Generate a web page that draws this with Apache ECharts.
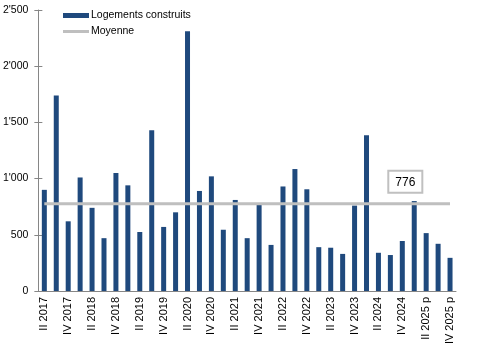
<!DOCTYPE html>
<html>
<head>
<meta charset="utf-8">
<script src="https://cdn.jsdelivr.net/npm/echarts@6/dist/echarts.min.js"></script>
<style>
html,body{margin:0;padding:0;background:#fff;}
#c{width:478px;height:349px;}
</style>
</head>
<body>
<div id="c"></div>
<script>
const categories = ["II 2017","III 2017","IV 2017","I 2018","II 2018","III 2018","IV 2018","I 2019","II 2019","III 2019","IV 2019","I 2020","II 2020","III 2020","IV 2020","I 2021","II 2021","III 2021","IV 2021","I 2022","II 2022","III 2022","IV 2022","I 2023","II 2023","III 2023","IV 2023","I 2024","II 2024","III 2024","IV 2024","I 2025 p","II 2025 p","III 2025 p","IV 2025 p"];
const logements = [900,1740,620,1010,740,470,1050,940,525,1430,570,700,2310,890,1020,545,810,470,765,410,930,1085,905,390,385,330,760,1385,340,320,445,800,515,420,295];
const moyenne = [776,776,776,776,776,776,776,776,776,776,776,776,776,776,776,776,776,776,776,776,776,776,776,776,776,776,776,776,776,776,776,776,776,776,776];
const moyenneLabelIndex = 30;
const yTicks = [0,500,1000,1500,2000,2500];

const FONT = '"Liberation Sans", Arial, sans-serif';
function fmt(v){ return String(v).replace(/\B(?=(\d{3})+(?!\d))/g, "'"); }

const lineData = moyenne.map((v,i) => i === moyenneLabelIndex ? {
  value: v,
  label: {
    show: true, position: 'top', distance: 12, offset: [3,0],
    formatter: '{c}', color: '#000', fontFamily: FONT, fontSize: 12,
    backgroundColor: '#fff', borderColor: '#C0C0C0', borderWidth: 2,
    padding: [4,6,3,6], lineHeight: 13
  }
} : v);

const chart = echarts.init(document.getElementById('c'), null, {renderer:'canvas'});
chart.setOption({
  animation: false,
  backgroundColor: '#fff',
  grid: {left: 38, right: 22, top: 10, bottom: 58, containLabel: false},
  legend: {
    orient: 'vertical', left: 63, top: 9, itemGap: 3, padding: 0,
    itemWidth: 26, itemHeight: 5,
    textStyle: {fontFamily: FONT, fontSize: 10.5, color: '#000', lineHeight: 13, padding: [0,0,0,-3]},
    data: [{name:'Logements construits', icon:'rect'}, {name:'Moyenne', icon:'path://M0,0L26,0L26,3L0,3Z'}]
  },
  xAxis: {
    type: 'category', data: categories,
    axisLine: {lineStyle: {color: '#868686', width: 1}},
    axisTick: {show: false},
    axisLabel: {interval: 1, rotate: 90, fontFamily: FONT, fontSize: 11, color: '#000', margin: 6},
    splitLine: {show: false}
  },
  yAxis: [{
    type: 'value', min: yTicks[0], max: yTicks[yTicks.length-1], interval: 500,
    axisLine: {show: true, lineStyle: {color: '#868686'}},
    axisTick: {show: true, length: 4, lineStyle: {color: '#868686'}},
    axisLabel: {formatter: fmt, fontFamily: FONT, fontSize: 10.5, color: '#000', margin: 10},
    splitLine: {show: false}
  },{
    type: 'value', position: 'left', min: yTicks[0], max: yTicks[yTicks.length-1], interval: 500,
    axisLine: {show: false},
    axisTick: {show: true, inside: true, length: 4, lineStyle: {color: '#868686'}},
    axisLabel: {show: false},
    splitLine: {show: false}
  }],
  series: [{
    name: 'Logements construits', type: 'bar', data: logements,
    barWidth: 5, itemStyle: {color: '#1F497D'}
  },{
    name: 'Moyenne', type: 'line', data: lineData,
    symbol: 'circle', symbolSize: 0, showSymbol: true,
    lineStyle: {color: '#BFBFBF', width: 3}, itemStyle: {color: '#BFBFBF'},
    emphasis: {disabled: true},
    z: 3
  }]
});
</script>
</body>
</html>
